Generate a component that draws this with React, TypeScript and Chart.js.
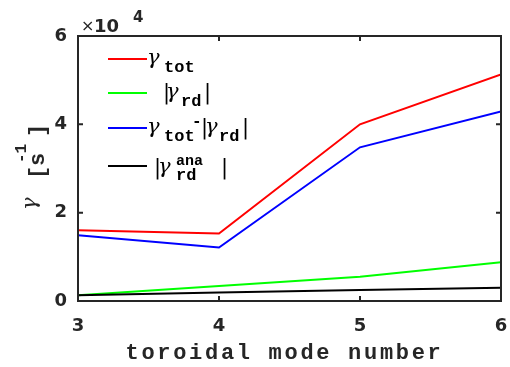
import React, { useEffect, useRef } from 'react';
import { Chart, registerables } from 'chart.js';
Chart.register(...registerables);

// ---- data ----
const modes = [3, 4, 5, 6];
const gammaTot = [16000, 15300, 40000, 51300];
const gammaRd = [1300, 3400, 5500, 8800];
const gammaDiff = [14900, 12100, 34800, 42900];
const gammaAna = [1300, 1900, 2500, 3000];
const xTickValues = [3, 4, 5, 6];
const yTickValues = [0, 20000, 40000, 60000];
const yTickLabels = ['0', '2', '4', '6'];
const seriesColors = ['#ff0000', '#00ff00', '#0000ff', '#000000'];
const xTitle = 'toroidal mode number';

const AXIS = '#262626';
const GAMMA = "italic 21px 'DejaVu Serif'";
const MONO = (s: number) => `bold ${s}px 'Liberation Mono'`;
const BAR = "21px 'DejaVu Sans'";
const TICKFONT = { family: "'DejaVu Sans'", size: 18, weight: 'bold' as const };

function txt(ctx: CanvasRenderingContext2D, s: string, x: number, y: number, font: string, spacing = 0, align: CanvasTextAlign = 'left', color = '#000') {
  ctx.font = font;
  (ctx as any).letterSpacing = spacing + 'px';
  ctx.textAlign = align;
  ctx.textBaseline = 'alphabetic';
  ctx.fillStyle = color;
  ctx.fillText(s, x, y);
  (ctx as any).letterSpacing = '0px';
}

const framePlugin = {
  id: 'frame',
  afterDatasetsDraw(chart: any) {
    const { ctx, chartArea: a, scales } = chart;
    ctx.save();
    ctx.strokeStyle = AXIS;
    ctx.lineWidth = 2;
    ctx.strokeRect(a.left, a.top, a.right - a.left, a.bottom - a.top);
    const L = 5;
    ctx.beginPath();
    for (const v of xTickValues) {
      const px = scales.x.getPixelForValue(v);
      ctx.moveTo(px, a.bottom); ctx.lineTo(px, a.bottom - L);
      ctx.moveTo(px, a.top); ctx.lineTo(px, a.top + L);
    }
    for (const v of yTickValues) {
      const py = scales.y.getPixelForValue(v);
      ctx.moveTo(a.left, py); ctx.lineTo(a.left + L, py);
      ctx.moveTo(a.right, py); ctx.lineTo(a.right - L, py);
    }
    ctx.stroke();
    ctx.restore();
  },
};

const textPlugin = {
  id: 'texts',
  afterDraw(chart: any) {
    const { ctx, chartArea: a } = chart;
    ctx.save();
    // x-axis title
    txt(ctx, xTitle, (a.left + a.right) / 2 - 5, 359, MONO(22), 2.7, 'center', AXIS);
    // exponent label
    txt(ctx, '×', 81, 31, "16px 'DejaVu Sans'", 0, 'left', AXIS);
    txt(ctx, '10', 94, 32, "bold 18px 'DejaVu Sans'", 0, 'left', AXIS);
    txt(ctx, '4', 133, 22, "bold 15px 'DejaVu Sans'", 0, 'left', AXIS);
    // y-axis title (rotated)
    ctx.save();
    ctx.translate(44, 210);
    ctx.rotate(-Math.PI / 2);
    txt(ctx, 'γ', 0, -8, GAMMA, 0, 'left', AXIS);
    txt(ctx, '[', 31, 0, MONO(22), 0, 'left', AXIS);
    txt(ctx, 's', 44, 0, MONO(22), 0, 'left', AXIS);
    txt(ctx, '-1', 47, -18, MONO(16), 0, 'left', AXIS);
    txt(ctx, ']', 73, 0, MONO(22), 0, 'left', AXIS);
    ctx.restore();

    // legend
    const rows = [59, 93, 128, 166];
    ctx.lineWidth = 2;
    rows.forEach((y, i) => {
      ctx.strokeStyle = seriesColors[i];
      ctx.beginPath();
      ctx.moveTo(108, y);
      ctx.lineTo(147, y);
      ctx.stroke();
    });
    let y = rows[0];
    txt(ctx, 'γ', 147, y + 5, GAMMA);
    txt(ctx, 'tot', 164, y + 13, MONO(17));
    y = rows[1];
    txt(ctx, '|', 163, y + 6, BAR);
    txt(ctx, 'γ', 166, y + 5, GAMMA);
    txt(ctx, 'rd', 181, y + 13, MONO(17));
    txt(ctx, '|', 204, y + 6, BAR);
    y = rows[2];
    txt(ctx, 'γ', 147, y + 5, GAMMA);
    txt(ctx, 'tot', 164, y + 13, MONO(17));
    txt(ctx, '-', 192, y - 2, MONO(16));
    txt(ctx, '|', 201, y + 6, BAR);
    txt(ctx, 'γ', 205, y + 5, GAMMA);
    txt(ctx, 'rd', 219, y + 13, MONO(17));
    txt(ctx, '|', 242, y + 6, BAR);
    y = rows[3];
    txt(ctx, '|', 154, y + 8, BAR);
    txt(ctx, 'γ', 158, y + 7, GAMMA);
    txt(ctx, 'ana', 176, y - 1, MONO(15));
    txt(ctx, 'rd', 176, y + 14, MONO(17));
    txt(ctx, '|', 221, y + 8, BAR);
    ctx.restore();
  },
};

export default function App() {
  const ref = useRef<HTMLCanvasElement>(null);
  useEffect(() => {
    const canvas = ref.current!;
    const series = [gammaTot, gammaRd, gammaDiff, gammaAna];
    const labels = ['γ_tot', '|γ_rd|', 'γ_tot - |γ_rd|', '|γ_rd^ana|'];
    const orders = [3, 2, 1, 0];
    const chart = new Chart(canvas, {
      type: 'line',
      data: {
        datasets: series.map((s, i) => ({
          label: labels[i],
          data: modes.map((m, j) => ({ x: m, y: s[j] })),
          borderColor: seriesColors[i],
          backgroundColor: seriesColors[i],
          borderWidth: 2,
          pointRadius: 0,
          tension: 0,
          fill: false,
          order: orders[i],
        })),
      },
      options: {
        responsive: false,
        animation: false,
        events: [],
        layout: { padding: { top: 36, right: 9, left: 0, bottom: 0 } },
        plugins: { legend: { display: false }, tooltip: { enabled: false }, title: { display: false } },
        scales: {
          x: {
            type: 'linear',
            min: 3,
            max: 6,
            afterBuildTicks: (s: any) => { s.ticks = xTickValues.map((v) => ({ value: v })); },
            ticks: { font: TICKFONT, color: AXIS, padding: 15, maxRotation: 0, autoSkip: false, callback: (v: any) => String(v) },
            grid: { display: false, drawTicks: false },
            border: { display: false },
            afterFit: (s: any) => { s.height = 66; s.paddingLeft = 0; s.paddingRight = 0; },
          },
          y: {
            type: 'linear',
            min: 0,
            max: 60000,
            afterBuildTicks: (s: any) => { s.ticks = yTickValues.map((v) => ({ value: v })); },
            ticks: { font: TICKFONT, color: AXIS, padding: 11, autoSkip: false, callback: (_v: any, i: number) => yTickLabels[i] },
            grid: { display: false, drawTicks: false },
            border: { display: false },
            afterFit: (s: any) => { s.width = 78; s.paddingTop = 0; s.paddingBottom = 0; },
          },
        },
      } as any,
      plugins: [framePlugin, textPlugin],
    });
    return () => chart.destroy();
  }, []);
  return (
    <div style={{ position: 'absolute', left: 0, top: 0, width: 510, height: 367, background: '#fff' }}>
      <canvas ref={ref} width={510} height={367} style={{ display: 'block' }} />
    </div>
  );
}
